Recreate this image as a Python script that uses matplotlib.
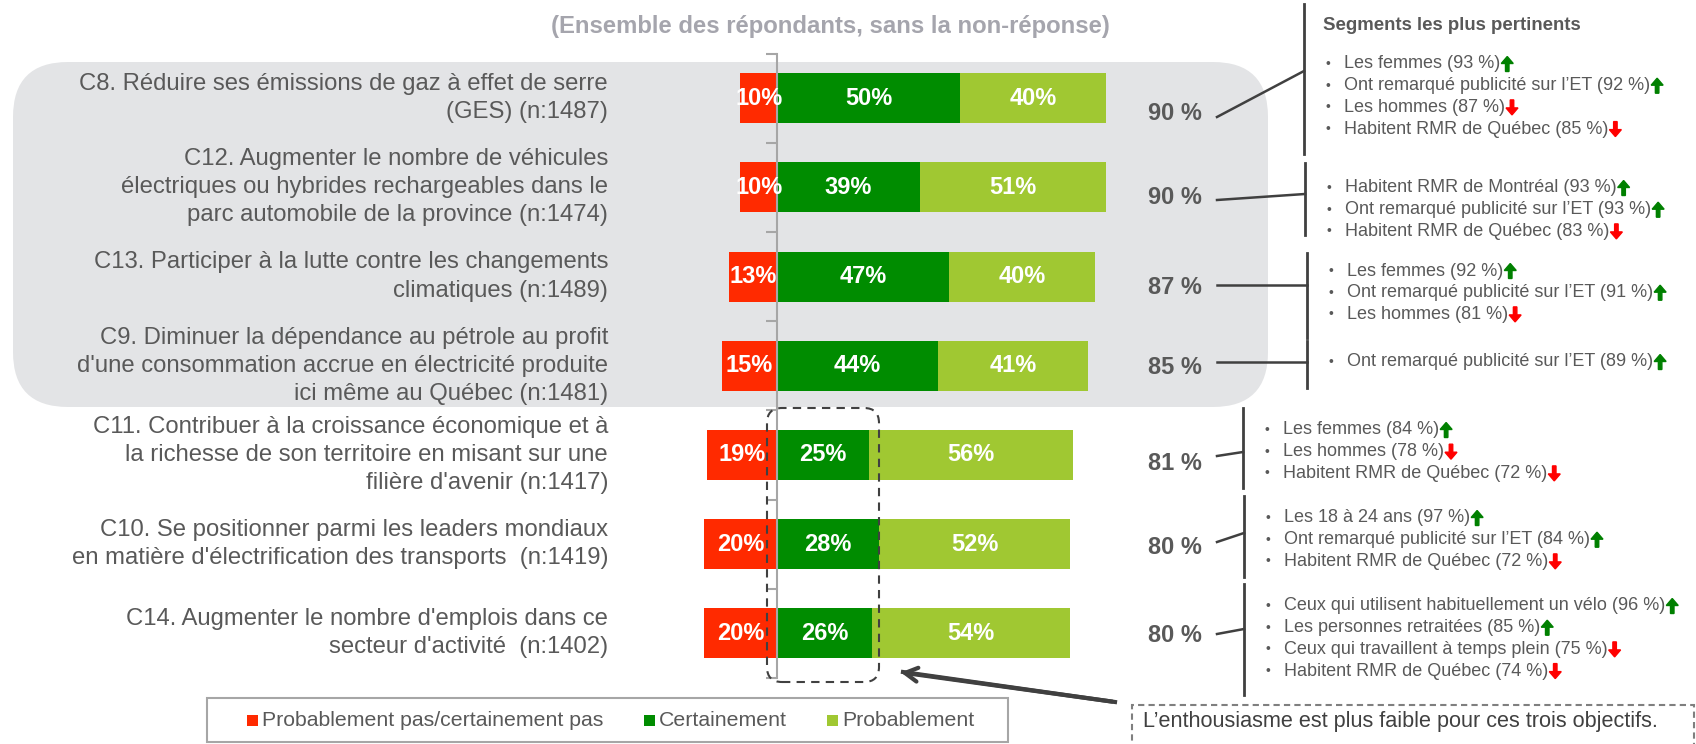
# Graphique : appui aux objectifs (barres empilees) + segments les plus pertinents

import numpy as np
import matplotlib.pyplot as plt
from matplotlib.patches import FancyBboxPatch, FancyArrow, Rectangle
from matplotlib.transforms import IdentityTransform

plt.rcParams['font.family'] = ['Liberation Sans', 'DejaVu Sans']

# Donnees

questions = [
    "C8. Réduire ses émissions de gaz à effet de serre\n(GES) (n:1487)",
    "C12. Augmenter le nombre de véhicules\nélectriques ou hybrides rechargeables dans le\nparc automobile de la province (n:1474)",
    "C13. Participer à la lutte contre les changements\nclimatiques (n:1489)",
    "C9. Diminuer la dépendance au pétrole au profit\nd'une consommation accrue en électricité produite\nici même au Québec (n:1481)",
    "C11. Contribuer à la croissance économique et à\nla richesse de son territoire en misant sur une\nfilière d'avenir (n:1417)",
    "C10. Se positionner parmi les leaders mondiaux\nen matière d'électrification des transports  (n:1419)",
    "C14. Augmenter le nombre d'emplois dans ce\nsecteur d'activité  (n:1402)",
]
pas = [10, 10, 13, 15, 19, 20, 20]
certainement = [50, 39, 47, 44, 25, 28, 26]
probablement = [40, 51, 40, 41, 56, 52, 54]
series = ['Probablement pas/certainement pas', 'Certainement', 'Probablement']

segments = [
    [("Les femmes (93 %)", 1), ("Ont remarqué publicité sur l’ET (92 %)", 1),
     ("Les hommes (87 %)", -1), ("Habitent RMR de Québec (85 %)", -1)],
    [("Habitent RMR de Montréal (93 %)", 1), ("Ont remarqué publicité sur l’ET (93 %)", 1),
     ("Habitent RMR de Québec (83 %)", -1)],
    [("Les femmes (92 %)", 1), ("Ont remarqué publicité sur l’ET (91 %)", 1),
     ("Les hommes (81 %)", -1)],
    [("Ont remarqué publicité sur l’ET (89 %)", 1)],
    [("Les femmes (84 %)", 1), ("Les hommes (78 %)", -1),
     ("Habitent RMR de Québec (72 %)", -1)],
    [("Les 18 à 24 ans (97 %)", 1), ("Ont remarqué publicité sur l’ET (84 %)", 1),
     ("Habitent RMR de Québec (72 %)", -1)],
    [("Ceux qui utilisent habituellement un vélo (96 %)", 1), ("Les personnes retraitées (85 %)", 1),
     ("Ceux qui travaillent à temps plein (75 %)", -1), ("Habitent RMR de Québec (74 %)", -1)],
]

titre = "(Ensemble des répondants, sans la non-réponse)"
titre_segments = "Segments les plus pertinents"
note = "L’enthousiasme est plus faible pour ces trois objectifs."

# Couleurs

rouge = '#FF2A00'
vert = '#008C00'
vert_pale = '#A0C832'
gris_texte = '#595959'
gris_fonce = '#404040'
gris_axe = '#A6A6A6'

W, H = 1696, 744
fig = plt.figure(figsize=(W / 100, H / 100), dpi=100)
ident = IdentityTransform()


def P(x, y):
    # pixels de l'image (origine en haut a gauche) -> pixels d'affichage
    return x, H - y


# Axe principal (0 % a x=777 px, 3.66 px par %)

ax = fig.add_axes([0, (H - 678) / H, 1, (678 - 53.5) / H])
ax.patch.set_visible(False)
ax.set_xlim(-777 / 3.66, (W - 777) / 3.66)
ax.set_ylim(len(questions) - 0.5, -0.5)

y = np.arange(len(questions))
neg = np.array(pas)
cer = np.array(certainement)
pro = np.array(probablement)

ax.barh(y, neg, left=-neg, height=0.56, color=rouge, label=series[0])
ax.barh(y, cer, left=0, height=0.56, color=vert, label=series[1])
ax.barh(y, pro, left=cer, height=0.56, color=vert_pale, label=series[2])

for i in range(len(questions)):
    ax.text(-neg[i] / 2, i, f'{neg[i]}%', ha='center', va='center',
            color='white', fontsize=17, fontweight='bold')
    ax.text(cer[i] / 2, i, f'{cer[i]}%', ha='center', va='center',
            color='white', fontsize=17, fontweight='bold')
    ax.text(cer[i] + pro[i] / 2, i, f'{pro[i]}%', ha='center', va='center',
            color='white', fontsize=17, fontweight='bold')

for s in ['top', 'right', 'bottom']:
    ax.spines[s].set_visible(False)
ax.spines['left'].set_position(('data', 0))
ax.spines['left'].set_color(gris_axe)
ax.spines['left'].set_linewidth(1.5)
ax.set_xticks([])
ax.set_yticks(np.arange(-0.5, len(questions), 1))
ax.tick_params(axis='y', length=8, width=1.5, color=gris_axe,
               labelleft=False, direction='out')

# Libelles des questions

for i, q in enumerate(questions):
    x_lab = (608 - 777) / 3.66
    ax.text(x_lab, i, q, ha='right', va='center', fontsize=17.2,
            color=gris_texte, linespacing=1.36)

# Titre

fig.text(*P(830, 27), titre, transform=ident, ha='center', va='center',
         fontsize=17.2, fontweight='bold', color='#A5A5AD')

# Fond gris arrondi (4 premiers objectifs)

fond = FancyBboxPatch(P(13, 407), 1268 - 13, 407 - 62,
                      boxstyle='round,pad=0,rounding_size=55',
                      transform=ident, facecolor='#E3E4E6', edgecolor='none',
                      zorder=-1)
fig.add_artist(fond)

# Cadre pointille autour de "Certainement" (3 derniers)

cadre = FancyBboxPatch(P(767, 682), 879 - 767, 682 - 408,
                       boxstyle='round,pad=0,rounding_size=15',
                       transform=ident, facecolor='none', edgecolor=gris_fonce,
                       linewidth=1.5, linestyle=(0, (4, 3)), zorder=5)
fig.add_artist(cadre)

# Totaux, crochets et segments

# (x crochet, haut, bas, y depart connecteur, y arrivee, y premiere ligne, y total)
blocs = [
    (1304, 4, 154, 117, 71, 64, 113),
    (1305, 163, 235, 200, 194, 188, 197),
    (1307, 253, 338, 285, 285, 271, 287),
    (1307, 341, 388, 362, 362, 362, 368),
    (1243, 408, 488, 456, 452, 430, 463),
    (1244, 496, 577, 542, 533, 518, 547),
    (1244, 584, 695, 634, 629, 606, 635),
]

fig.text(*P(1323, 26), titre_segments, transform=ident, ha='left', va='center',
         fontsize=13.4, fontweight='bold', color=gris_texte)

lignes = []
for i, (bx, haut, bas, yc0, yc1, yl, yt) in enumerate(blocs):
    total = certainement[i] + probablement[i]
    fig.text(*P(1202, yt), f'{total} %', transform=ident, ha='right', va='center',
             fontsize=17, fontweight='bold', color=gris_texte)
    fig.add_artist(plt.Line2D([bx, bx], [H - haut, H - bas], transform=ident,
                              color=gris_fonce, linewidth=2))
    fig.add_artist(plt.Line2D([1217, bx], [H - yc0, H - yc1], transform=ident,
                              color=gris_fonce, linewidth=1.8))
    for k, (txt, sens) in enumerate(segments[i]):
        yy = yl + k * 21.7
        fig.text(*P(bx + 24, yy), '•', transform=ident, ha='center', va='center',
                 fontsize=10, color=gris_texte)
        t = fig.text(*P(bx + 40, yy), txt, transform=ident, ha='left', va='center',
                     fontsize=13, color=gris_texte)
        lignes.append((t, yy, sens))

fig.canvas.draw()
rend = fig.canvas.get_renderer()
for t, yy, sens in lignes:
    x1 = t.get_window_extent(rend).x1
    xa = x1 + 7
    if sens > 0:
        fl = FancyArrow(xa, H - yy - 7.5, 0, 15, width=3.5, head_width=12,
                        head_length=7, length_includes_head=True,
                        transform=ident, color='#008000')
    else:
        fl = FancyArrow(xa, H - yy + 7.5, 0, -15, width=3.5, head_width=12,
                        head_length=7, length_includes_head=True,
                        transform=ident, color='#FF0000')
    fig.add_artist(fl)

# Legende

fig.add_artist(Rectangle(P(207, 742), 1008 - 207, 742 - 698, transform=ident,
                         facecolor='white', edgecolor=gris_axe, linewidth=1.5))
for xl, nom, c in zip([247, 644, 827], series, [rouge, vert, vert_pale]):
    fig.add_artist(Rectangle(P(xl, 726), 11, 11, transform=ident,
                             facecolor=c, edgecolor='none'))
    fig.text(*P(xl + 15, 720), nom, transform=ident, ha='left', va='center',
             fontsize=15.3, color=gris_texte)

# Note et fleche

fig.add_artist(Rectangle(P(1132, 760), 1694 - 1132, 760 - 705, transform=ident,
                         facecolor='white', edgecolor='#7F7F7F', linewidth=1.5,
                         linestyle=(0, (3, 2))))
fig.text(*P(1143, 722), note, transform=ident, ha='left', va='center',
         fontsize=15.6, color=gris_fonce)
fig.add_artist(plt.Line2D([1115, 903], [H - 702, H - 672], transform=ident,
                          color=gris_fonce, linewidth=3))
ax.annotate('', xy=P(898, 672), xytext=P(1115, 702),
            xycoords='figure pixels', textcoords='figure pixels',
            arrowprops=dict(arrowstyle='->,head_length=0.9,head_width=0.5',
                            color=gris_fonce, linewidth=3))

fig.savefig('out.png', dpi=100)
